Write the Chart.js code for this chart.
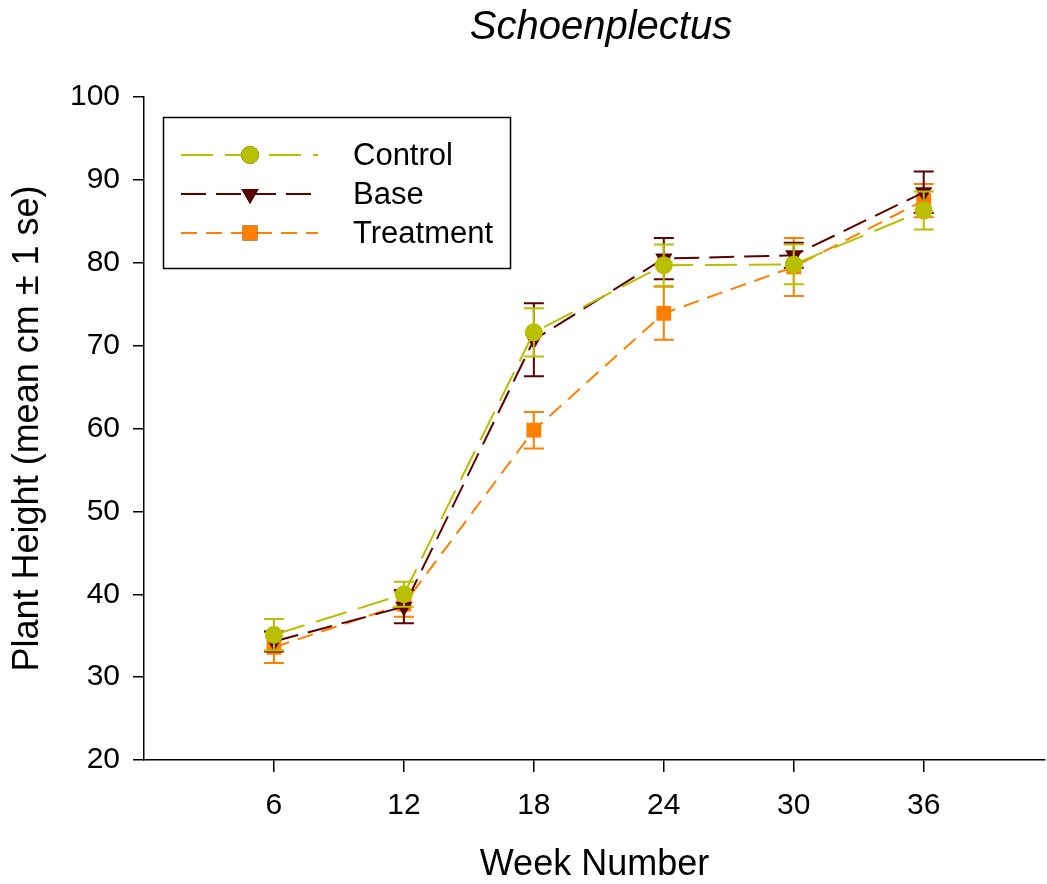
<!DOCTYPE html>
<html>
<head>
<meta charset="utf-8">
<script src="https://cdn.jsdelivr.net/npm/chart.js@4/dist/chart.umd.min.js"></script>
<style>
  html, body { margin: 0; padding: 0; background: #fff; }
  #wrap { width: 1047px; height: 884px; }
</style>
</head>
<body>
<div id="wrap"><canvas id="myChart" width="1047" height="884"></canvas></div>
<script>
// week numbers on the x axis
const weeks = [6, 12, 18, 24, 30, 36];
const yTicks = [20, 30, 40, 50, 60, 70, 80, 90, 100];

// mean plant height and standard error per group
const controlMean = [35.1, 40.0, 71.6, 79.7, 79.8, 86.3];
const controlSe = [1.9, 1.5, 2.9, 2.5, 2.4, 2.3];
const baseMean = [34.3, 38.5, 70.7, 80.5, 80.9, 88.5];
const baseSe = [1.2, 2.0, 4.4, 2.5, 1.5, 2.5];
const treatMean = [33.6, 38.8, 59.8, 73.9, 79.5, 87.5];
const treatSe = [1.9, 1.5, 2.2, 3.2, 3.5, 2.0];

const FONT = '"Liberation Sans", Arial, sans-serif';

const toPoints = (means, ses) => means.map((m, i) => ({ x: weeks[i], y: m, se: ses[i] }));

// stretch the plot area out to the right edge like the original figure
const stretchRight = {
  id: 'stretchRight',
  afterLayout(chart) {
    const x = chart.scales.x;
    const right = chart.width - 2;
    chart.chartArea.right = right;
    chart.chartArea.width = right - chart.chartArea.left;
    x.right = right;
    x.width = right - x.left;
    x.configure();
  }
};

// vertical error bars with caps, drawn through the chart scales
const errorBars = {
  id: 'errorBars',
  beforeDatasetDraw(chart, args) {
    const ds = chart.data.datasets[args.index];
    const { ctx, scales: { x, y } } = chart;
    ctx.save();
    ctx.strokeStyle = ds.borderColor;
    ctx.lineWidth = 2;
    ctx.setLineDash([]);
    ds.data.forEach(p => {
      const px = x.getPixelForValue(p.x);
      const top = y.getPixelForValue(p.y + p.se);
      const bot = y.getPixelForValue(p.y - p.se);
      ctx.beginPath();
      ctx.moveTo(px, top); ctx.lineTo(px, bot);
      ctx.moveTo(px - 10, top); ctx.lineTo(px + 10, top);
      ctx.moveTo(px - 10, bot); ctx.lineTo(px + 10, bot);
      ctx.stroke();
    });
    ctx.restore();
  }
};

// title centred over the plot area, and the boxed legend
const boxLegend = {
  id: 'boxLegend',
  afterDraw(chart) {
    const ctx = chart.ctx;
    ctx.save();
    ctx.fillStyle = '#000';
    ctx.font = 'italic 40px ' + FONT;
    ctx.textAlign = 'center';
    ctx.textBaseline = 'middle';
    ctx.fillText('Schoenplectus', 601, 28);
    ctx.textAlign = 'left';

    ctx.strokeStyle = '#000';
    ctx.lineWidth = 1.5;
    ctx.strokeRect(163.5, 117.5, 347, 151);
    const rows = [155, 194, 233];
    chart.data.datasets.forEach((ds, i) => {
      const yy = rows[i];
      ctx.strokeStyle = ds.borderColor;
      ctx.lineWidth = 2;
      ctx.setLineDash(ds.borderDash);
      ctx.beginPath();
      ctx.moveTo(181, yy); ctx.lineTo(318, yy);
      ctx.stroke();
      ctx.setLineDash([]);
      Chart.helpers.drawPoint(ctx, {
        pointStyle: ds.pointStyle,
        radius: ds.pointRadius,
        rotation: ds.pointRotation || 0,
        borderWidth: 0
      }, 250, yy);
      ctx.fillStyle = ds.backgroundColor;
      ctx.fill();
      ctx.fillStyle = '#000';
      ctx.font = '31px ' + FONT;
      ctx.textBaseline = 'middle';
      ctx.fillText(ds.label, 353, yy + 1);
    });
    ctx.restore();
  }
};

new Chart(document.getElementById('myChart'), {
  type: 'line',
  data: {
    datasets: [
      {
        label: 'Control',
        data: toPoints(controlMean, controlSe),
        borderColor: '#b8bf00',
        backgroundColor: '#b8bf00',
        borderDash: [32, 12],
        borderWidth: 2,
        pointStyle: 'circle',
        pointRadius: 9,
        pointBorderWidth: 0
      },
      {
        label: 'Base',
        data: toPoints(baseMean, baseSe),
        borderColor: '#5c0000',
        backgroundColor: '#5c0000',
        borderDash: [25, 10],
        borderWidth: 2,
        pointStyle: 'triangle',
        pointRotation: 180,
        pointRadius: 10,
        pointBorderWidth: 0
      },
      {
        label: 'Treatment',
        data: toPoints(treatMean, treatSe),
        borderColor: '#ff8000',
        backgroundColor: '#ff8000',
        borderDash: [16, 9],
        borderWidth: 2,
        pointStyle: 'rect',
        pointRadius: 10.5,
        pointBorderWidth: 0
      }
    ]
  },
  options: {
    responsive: false,
    animation: false,
    events: [],
    layout: { padding: { left: 0, right: 2, top: 97, bottom: 0 } },
    plugins: {
      legend: { display: false },
      tooltip: { enabled: false },
      title: { display: false }
    },
    scales: {
      x: {
        type: 'linear',
        min: 0,
        max: 41.6,
        afterBuildTicks: s => { s.ticks = weeks.map(v => ({ value: v })); },
        afterFit: s => { s.height = 124; },
        grid: { drawOnChartArea: false, drawTicks: true, tickLength: 12, color: '#000', lineWidth: 1.5 },
        border: { display: true, color: '#000', width: 1.5 },
        ticks: { color: '#000', font: { family: FONT, size: 30 }, padding: 16, maxRotation: 0 },
        title: {
          display: true,
          text: 'Week Number',
          color: '#000',
          font: { family: FONT, size: 36 },
          padding: { top: 14, bottom: -3 }
        }
      },
      y: {
        min: 20,
        max: 100,
        afterBuildTicks: s => { s.ticks = yTicks.map(v => ({ value: v })); },
        afterFit: s => { s.width = 144; },
        grid: { drawOnChartArea: false, drawTicks: true, tickLength: 11, color: '#000', lineWidth: 1.5 },
        border: { display: true, color: '#000', width: 1.5 },
        ticks: { color: '#000', font: { family: FONT, size: 30 }, padding: 13 },
        title: {
          display: true,
          text: 'Plant Height (mean cm \u00b1 1 se)',
          color: '#000',
          font: { family: FONT, size: 36 },
          padding: { top: 6, bottom: 4 }
        }
      }
    }
  },
  plugins: [stretchRight, errorBars, boxLegend]
});
</script>
</body>
</html>
